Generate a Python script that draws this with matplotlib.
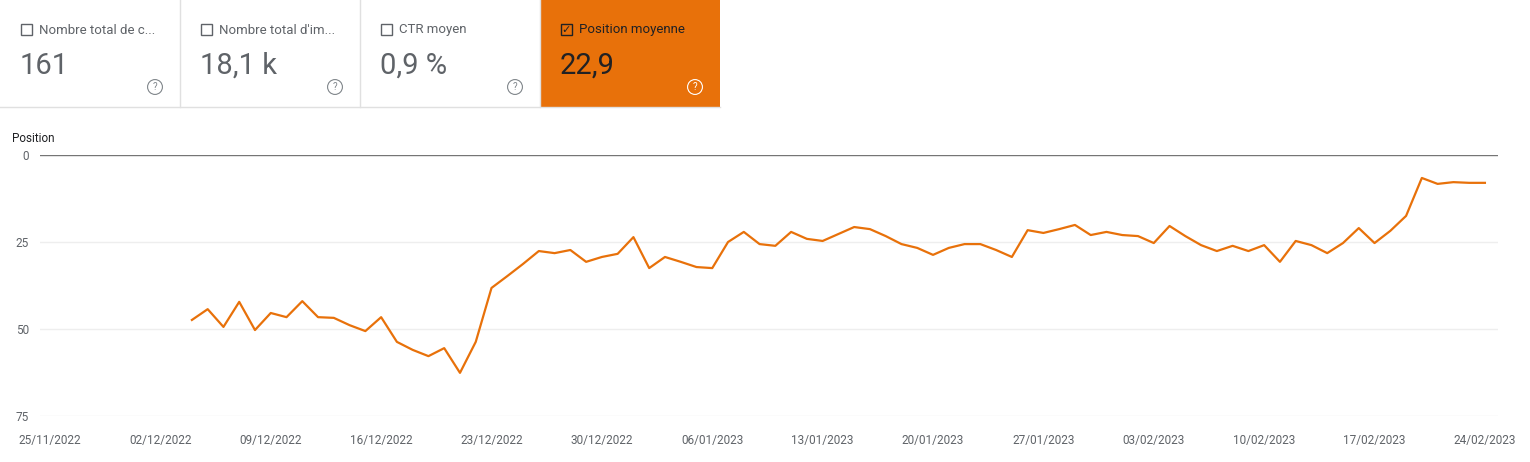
import matplotlib
matplotlib.use("Agg")
import matplotlib.pyplot as plt
import matplotlib.patches as mpatches
import numpy as np
import pandas as pd

plt.rcParams['font.family'] = ['Roboto', 'DejaVu Sans']

card_titles = ["Nombre total de c...", "Nombre total d'im...", "CTR moyen", "Position moyenne"]
card_values = ["161", "18,1 k", "0,9 %", "22,9"]
position = [47.4, 44.3, 49.4, 42.2, 50.3, 45.4, 46.6, 42.0, 46.6, 46.8, 48.9, 50.6, 46.6,
            53.7, 56.0, 57.8, 55.5, 62.6, 53.7, 38.2, 34.8, 31.3, 27.6, 28.2, 27.3, 30.7,
            29.3, 28.4, 23.6, 32.5, 29.3, 30.7, 32.2, 32.5, 25.0, 22.1, 25.6, 26.1, 22.1,
            24.1, 24.7, 22.7, 20.7, 21.3, 23.3, 25.6, 26.7, 28.7, 26.7, 25.6, 25.6, 27.3,
            29.3, 21.6, 22.4, 21.3, 20.1, 23.0, 22.1, 23.0, 23.3, 25.3, 20.4, 23.3, 25.9,
            27.6, 26.1, 27.6, 25.9, 30.7, 24.7, 25.9, 28.2, 25.3, 21.0, 25.3, 21.8, 17.5,
            6.6, 8.3, 7.8, 8.0, 8.0]
tick_labels = ["25/11/2022", "02/12/2022", "09/12/2022", "16/12/2022", "23/12/2022",
               "30/12/2022", "06/01/2023", "13/01/2023", "20/01/2023", "27/01/2023",
               "03/02/2023", "10/02/2023", "17/02/2023", "24/02/2023"]
y_ticks = [0, 25, 50, 75]

W, H = 1530, 462
fig = plt.figure(figsize=(W/100, H/100), dpi=100)
fig.patch.set_facecolor("white")
orange = "#E8710A"

# cards
cw = 180
for i, (t, v) in enumerate(zip(card_titles, card_values)):
    x0 = i * cw / W
    sel = i == 3
    if sel:
        fig.patches.append(mpatches.Rectangle((x0, 1 - 107/H), cw/W, 107/H, transform=fig.transFigure,
                                              facecolor=orange, edgecolor="none", zorder=0))
    else:
        fig.add_artist(plt.Line2D([(i+1)*cw/W - 0.0003]*2, [1-107/H, 1], color="#e0e0e0", lw=1,
                                  transform=fig.transFigure))
    tc = "#202124" if sel else "#5f6368"
    fig.patches.append(mpatches.Rectangle(((i*cw+21)/W, 1-35/H), 11/W, 11/H, transform=fig.transFigure,
                                          facecolor="none", edgecolor=tc, lw=1))
    if sel:
        fig.text((i*cw+26.5)/W, 1-30/H, "✓", color=tc, fontsize=8, ha="center", va="center",
                 family="DejaVu Sans")
    fig.text((i*cw+39)/W, 1-30/H, t, color=tc, fontsize=9.5, va="center")
    fig.text((i*cw+20)/W, 1-66/H, v, color="#202124" if sel else "#5f6368", fontsize=21, va="center")
    fig.text((i*cw+155)/W, 1-87/H, "?", color="white" if sel else "#80868b", fontsize=7, ha="center",
             va="center", bbox=dict(boxstyle="circle,pad=0.25", fc="none", ec="white" if sel else "#80868b", lw=0.8))
fig.add_artist(plt.Line2D([0, 4*cw/W], [1-107/H]*2, color="#e0e0e0", lw=1, transform=fig.transFigure))

ax = fig.add_axes([40/W, 1-416/H, (1498-40)/W, (416-155)/H])
start = pd.Timestamp("2022-11-25")
end = pd.Timestamp("2023-02-24")
dates = pd.date_range(end=end, periods=len(position), freq="D")
days = np.array((dates - start).days, dtype=float)
ax.plot(days, position, color=orange, lw=1.6)
ax.set_ylim(75, 0)
ax.set_xlim(-0.634, 91.83)
ax.set_yticks(y_ticks)
ax.set_yticklabels([str(v) for v in y_ticks])
ax.set_xticks(np.arange(0, 92, 7))
ax.set_xticklabels(tick_labels)
for s in ax.spines.values():
    s.set_visible(False)
ax.tick_params(length=0, labelsize=8.5, colors="#5f6368")
ax.tick_params(axis="y", pad=8)
ax.tick_params(axis="x", pad=13)
for v in y_ticks[1:]:
    ax.axhline(v, color="#eeeeee", lw=1, zorder=0)
ax.axhline(0, color="#757575", lw=1, zorder=0)
fig.text(12/W, 1-138/H, "Position", fontsize=8.5, color="#202124", va="center")

fig.savefig("out.png", dpi=100)
